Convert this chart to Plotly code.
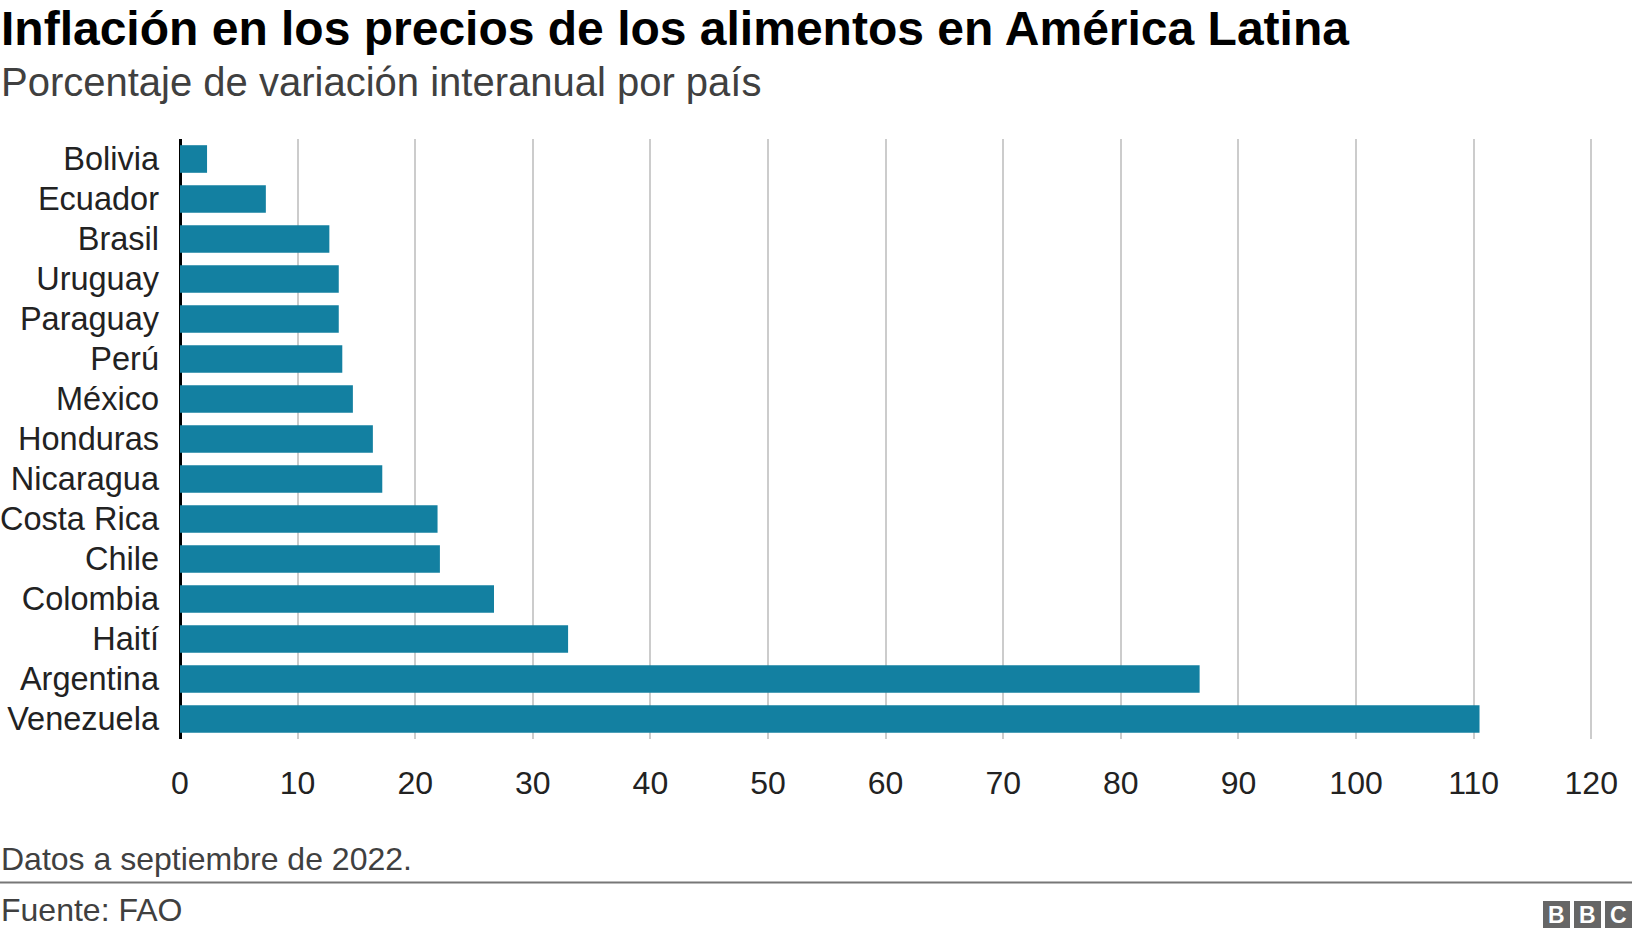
import plotly.graph_objects as go

countries = ["Bolivia", "Ecuador", "Brasil", "Uruguay", "Paraguay", "Perú", "México",
             "Honduras", "Nicaragua", "Costa Rica", "Chile", "Colombia", "Haití",
             "Argentina", "Venezuela"]
values = [2.3, 7.3, 12.7, 13.5, 13.5, 13.8, 14.7, 16.4, 17.2, 21.9, 22.1, 26.7, 33.0, 86.7, 110.5]
tick_vals = [0, 10, 20, 30, 40, 50, 60, 70, 80, 90, 100, 110, 120]

title = "Inflación en los precios de los alimentos en América Latina"
subtitle = "Porcentaje de variación interanual por país"
note = "Datos a septiembre de 2022."
source = "Fuente: FAO"

W, H = 1632, 938
L, T, B = 180, 139, 199
XMAX = 121
PW = round(XMAX * 11.76)
R = W - L - PW
PH = H - T - B
FONT = "Liberation Sans, Arial, sans-serif"


def xp(px):
    return (px - L) / PW


def yp(py):
    return (H - B - py) / PH


fig = go.Figure(go.Bar(
    x=values, y=countries, orientation="h",
    marker=dict(color="#1380A1", line=dict(width=0)),
    hoverinfo="skip",
))

annotations = [
    dict(text=f"<b>{title}</b>", x=xp(-1), y=yp(29), xanchor="left", yanchor="middle",
         font=dict(family=FONT, size=48, color="#000000")),
    dict(text=subtitle, x=xp(-1), y=yp(82), xanchor="left", yanchor="middle",
         font=dict(family=FONT, size=40, color="#404040")),
    dict(text=note, x=xp(-1), y=yp(859), xanchor="left", yanchor="middle",
         font=dict(family=FONT, size=32, color="#404040")),
    dict(text=source, x=xp(-1), y=yp(910), xanchor="left", yanchor="middle",
         font=dict(family=FONT, size=32, color="#404040")),
]
shapes = [
    dict(type="line", xref="paper", yref="paper", x0=xp(0), x1=xp(W), y0=yp(882.5), y1=yp(882.5),
         line=dict(color="#777777", width=2)),
]
for i, letter in enumerate(["B", "B", "C"]):
    x0 = 1543 + i * 31
    shapes.append(dict(type="rect", xref="paper", yref="paper", x0=xp(x0), x1=xp(x0 + 27),
                       y0=yp(928), y1=yp(901), fillcolor="#666666", line=dict(width=0)))
    annotations.append(dict(text=f"<b>{letter}</b>", x=xp(x0 + 13.5), y=yp(914.5), xanchor="center",
                            yanchor="middle", showarrow=False,
                            font=dict(family=FONT, size=23, color="#ffffff")))

for a in annotations:
    a.update(xref="paper", yref="paper", showarrow=False)

fig.update_layout(
    width=W, height=H,
    margin=dict(l=L, r=R, t=T, b=B, pad=0, autoexpand=False),
    paper_bgcolor="white", plot_bgcolor="white",
    bargap=0.31, showlegend=False,
    annotations=annotations, shapes=shapes,
    font=dict(family=FONT),
)
fig.update_xaxes(
    range=[0, XMAX], tickvals=tick_vals, ticktext=[str(v) for v in tick_vals],
    showgrid=True, gridcolor="#cccccc", gridwidth=1.5,
    zeroline=True, zerolinecolor="#000000", zerolinewidth=3,
    showline=False, ticks="outside", ticklen=16, tickcolor="rgba(0,0,0,0)",
    tickfont=dict(family=FONT, size=32, color="#222222"), fixedrange=True,
    automargin=False,
)
fig.update_yaxes(
    type="category", categoryorder="array", categoryarray=countries, autorange="reversed",
    showgrid=False, zeroline=False, showline=False, ticks="", ticklabelstandoff=20,
    tickfont=dict(family=FONT, size=32.5, color="#222222"), fixedrange=True,
    automargin=False,
)

fig.write_html(
    "out.html",
    config={"displayModeBar": False},
    post_script="document.body.style.margin='0';document.body.style.padding='0';document.body.style.overflow='hidden';",
)
